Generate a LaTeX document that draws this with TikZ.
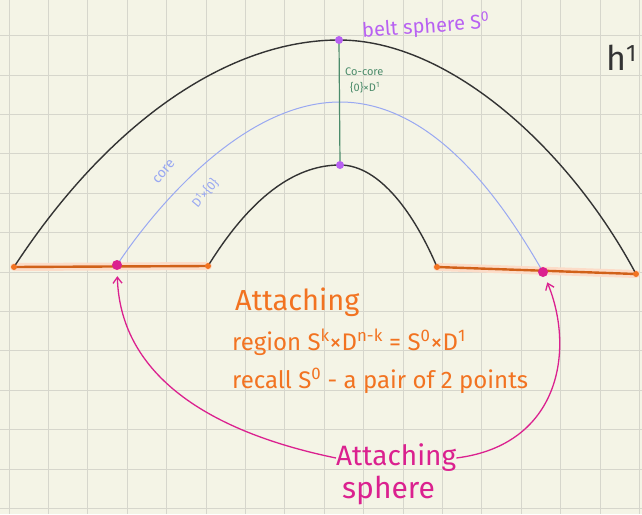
\documentclass[tikz,border=0pt]{standalone}
\usepackage{fontspec}
\setmainfont{Fira Sans}
\usetikzlibrary{arrows.meta}
\definecolor{notepaper}{rgb}{0.957,0.957,0.902}
\definecolor{notegrid}{rgb}{0.84,0.84,0.80}
\definecolor{handleblack}{rgb}{0.20,0.20,0.20}
\definecolor{coreblue}{rgb}{0.60,0.66,0.95}
\definecolor{cocoregreen}{rgb}{0.30,0.55,0.42}
\definecolor{beltpurple}{rgb}{0.72,0.38,0.95}
\definecolor{attachorange}{rgb}{0.95,0.45,0.13}
\definecolor{regionorange}{rgb}{0.82,0.38,0.10}
\definecolor{spheremagenta}{rgb}{0.86,0.13,0.56}

\tikzset{
  handdot/.style 2 args={circle,fill=#1,inner sep=0pt,minimum size=#2},
  handlearc/.style={handleblack,line width=1.4pt},
  regionline/.style={regionorange,line width=2.4pt,line cap=round},
  regionglow/.style={attachorange!25,line width=8pt,line cap=round},
  sphereArrow/.style={spheremagenta,line width=1.3pt,-{Straight Barb[length=6pt,width=9pt]},shorten >=6pt},
  notetext/.style={inner sep=0pt,anchor=west},
}

\begin{document}
\begin{tikzpicture}[x=1pt,y=-1pt]
\fill[notepaper] (0,0) rectangle (642,514);
\useasboundingbox (0,0) rectangle (642,514);
\foreach \k in {0,...,16}
  \draw[notegrid,line width=0.8pt] (9+39.4*\k,0) -- (9+39.4*\k,514);
\foreach \k in {-6,...,6}
  \draw[notegrid,line width=0.8pt] (0,272+39.4*\k) -- (642,272+39.4*\k);

\coordinate (outerL) at (14,267);
\coordinate (innerL) at (208,266);
\coordinate (innerR) at (437,267);
\coordinate (outerR) at (636,274);
\coordinate (beltTopC) at (339,40);
\coordinate (cocoreBotC) at (340,165);
\coordinate (attLC) at (117,265);
\coordinate (attRC) at (543,272);

\draw[regionglow] (outerL) -- (innerL);
\draw[regionglow] (innerR) -- (outerR);
\draw[regionline] (outerL) -- (innerL);
\draw[regionline] (innerR) -- (outerR);

\draw[handlearc] (outerL) .. controls (110,120) and (230,40) .. (beltTopC)
  .. controls (450,40) and (570,150) .. (outerR);
\draw[handlearc] (innerL) .. controls (255,190) and (300,165) .. (cocoreBotC)
  .. controls (380,165) and (415,215) .. (innerR);
\draw[coreblue,line width=1pt] (attLC) .. controls (150,215) and (240,102) .. (340,102)
  .. controls (440,102) and (510,215) .. (attRC);
\draw[cocoregreen,line width=1.2pt] (beltTopC) -- (cocoreBotC);

\node[handdot={attachorange}{6pt}] (outerLdot) at (outerL) {};
\node[handdot={attachorange}{6pt}] (innerLdot) at (innerL) {};
\node[handdot={attachorange}{6pt}] (innerRdot) at (innerR) {};
\node[handdot={attachorange}{6pt}] (outerRdot) at (outerR) {};
\node[handdot={spheremagenta}{10pt}] (attL) at (attLC) {};
\node[handdot={spheremagenta}{10pt}] (attR) at (attRC) {};
\node[handdot={beltpurple}{8pt}] (beltTop) at (beltTopC) {};
\node[handdot={beltpurple}{8pt}] (cocoreBot) at (cocoreBotC) {};

\node[notetext,text=beltpurple,font=\fontsize{20}{22}\selectfont,rotate=4] (beltLabel) at (362,31) {belt sphere S\textsuperscript{0}};
\node[notetext,text=cocoregreen,font=\fontsize{11}{12}\selectfont] (cocoreLabel) at (345,72) {Co-core};
\node[notetext,text=cocoregreen,font=\fontsize{11}{12}\selectfont] (cocoreSet) at (350,88) {\{0\}×D\textsuperscript{1}};
\node[text=coreblue,font=\fontsize{14}{15}\selectfont,rotate=50,inner sep=0pt] (coreLabel) at (164,172) {core};
\node[text=coreblue,font=\fontsize{12.5}{14}\selectfont,rotate=50,inner sep=0pt] (coreSet) at (205,193) {D\textsuperscript{1}×\{0\}};
\node[notetext,text=handleblack,font=\fontsize{34}{36}\selectfont] (handleName) at (606,58) {h\textsuperscript{1}};

\node[notetext,text=attachorange,font=\fontsize{29}{32}\selectfont] (regionA) at (235,302) {Attaching};
\node[notetext,text=attachorange,font=\fontsize{24}{26}\selectfont] (regionB) at (232,342) {region S\textsuperscript{k}×D\textsuperscript{n-k} = S\textsuperscript{0}×D\textsuperscript{1}};
\node[notetext,text=attachorange,font=\fontsize{24}{26}\selectfont] (regionC) at (232,381) {recall S\textsuperscript{0} - a pair of 2 points};

\node[notetext,text=spheremagenta,font=\fontsize{28}{30}\selectfont] (sphereA) at (336,458) {Attaching};
\node[notetext,text=spheremagenta,font=\fontsize{30}{32}\selectfont] (sphereB) at (342,490) {sphere};

\draw[sphereArrow] (sphereA.west) .. controls (200,430) and (120,370) .. (attL);
\draw[sphereArrow] (sphereA.east) .. controls (560,445) and (575,350) .. (attR);
\end{tikzpicture}
\end{document}
